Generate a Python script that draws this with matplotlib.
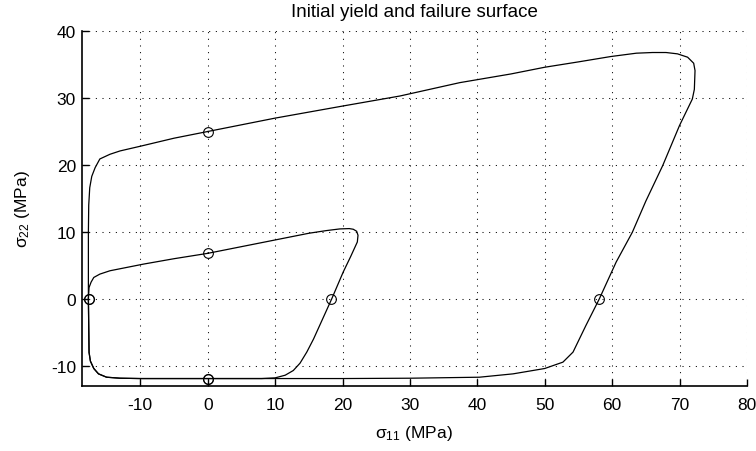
import matplotlib
matplotlib.use('Agg')
from matplotlib import pyplot as plt

plt.rcParams['font.family'] = ['Liberation Sans', 'DejaVu Sans']
plt.rcParams['mathtext.fontset'] = 'custom'
plt.rcParams['mathtext.rm'] = 'Liberation Sans'
plt.rcParams['axes.unicode_minus'] = False

# failure surface (outer curve)
outer_x = [0, 10, 20, 28.5, 37.4, 45, 50, 55, 59.8, 63.6, 66, 68, 69.7, 71.2, 72.1,
           72.3, 72.2, 71.9, 70, 67.5, 65, 63, 60.6, 58.1, 56.1, 54.2, 52.7, 50,
           45.3, 40.3, 30, 20, 10, 0, -10, -13, -15, -16.2, -16.9, -17.4, -17.6,
           -17.7, -17.7, -17.65, -17.5, -17.2, -16.7, -16, -14.5, -13, -10, -5, 0]
outer_y = [25, 27, 28.8, 30.3, 32.3, 33.6, 34.6, 35.4, 36.2, 36.7, 36.8, 36.8, 36.6,
           36.1, 35.2, 34.1, 31.3, 29.85, 25.9, 19.9, 14.6, 9.95, 5.5, 0, -4, -7.95,
           -9.45, -10.4, -11.2, -11.7, -11.85, -11.9, -11.9, -11.9, -11.9, -11.85,
           -11.7, -11.2, -10.4, -9.3, -8, 0, 10, 14, 16.6, 18.3, 19.6, 20.9, 21.6,
           22.1, 22.8, 24, 25]

# initial yield surface (inner curve)
inner_x = [0, 5, 10, 15, 17.6, 19.6, 21, 21.6, 22.1, 22.3, 22.2, 21.2, 20.1, 18.4,
           17.5, 16.6, 15.7, 14.7, 13.7, 12.7, 11.5, 10, 8, 0, -10, -13, -15, -16.2,
           -16.9, -17.4, -17.6, -17.7, -17.6, -17.3, -16.9, -16, -14.5, -12, -9.5,
           -5, 0]
inner_y = [6.8, 7.8, 8.8, 9.8, 10.2, 10.45, 10.5, 10.4, 10.1, 9.5, 8.5, 6.3, 4, 0,
           -2, -4, -6, -7.95, -9.6, -10.7, -11.4, -11.8, -11.9, -11.9, -11.9, -11.85,
           -11.7, -11.2, -10.4, -9.3, -8, 0, 1.7, 2.5, 3.2, 3.7, 4.2, 4.7, 5.2, 6, 6.8]

# marked points on the axes crossings
outer_mx = [0, 58.1, 0, -17.6]
outer_my = [25, 0, -11.9, 0]
inner_mx = [0, 18.3, 0, -17.6]
inner_my = [6.8, 0, -11.9, 0]

fig = plt.figure(figsize=(7.56, 4.52), dpi=100)
ax = fig.add_axes([0.108, 0.144, 0.88, 0.785])

ax.plot(outer_x, outer_y, color='black', lw=0.9)
ax.plot(inner_x, inner_y, color='black', lw=0.9)
ax.plot(outer_mx, outer_my, 'o', mfc='none', mec='black', ms=7, mew=0.8)
ax.plot(inner_mx, inner_my, 'o', mfc='none', mec='black', ms=7, mew=0.8)

ax.set_xlim(-18.7, 80)
ax.set_ylim(-13, 40)
ax.set_xticks(range(-10, 81, 10))
ax.set_yticks(range(-10, 41, 10))
ax.grid(True, color='black', lw=0.75, linestyle=(0, (1, 5.4)))
ax.set_axisbelow(True)
for s in ['top', 'right']:
    ax.spines[s].set_visible(False)
ax.spines['left'].set_linewidth(1.2)
ax.spines['bottom'].set_linewidth(1.2)
ax.tick_params(direction='in', length=5, width=1, labelsize=12.5)
ax.tick_params(axis='x', pad=8)
ax.tick_params(axis='y', pad=4)

ax.set_title('Initial yield and failure surface', fontsize=13.5, pad=11)
ax.set_xlabel(r'$\mathregular{\sigma_{11}}$ (MPa)', fontsize=12.5, labelpad=8)
ax.set_ylabel(r'$\mathregular{\sigma_{22}}$ (MPa)', fontsize=12.5, labelpad=14)

fig.savefig('out.png', dpi=100)
